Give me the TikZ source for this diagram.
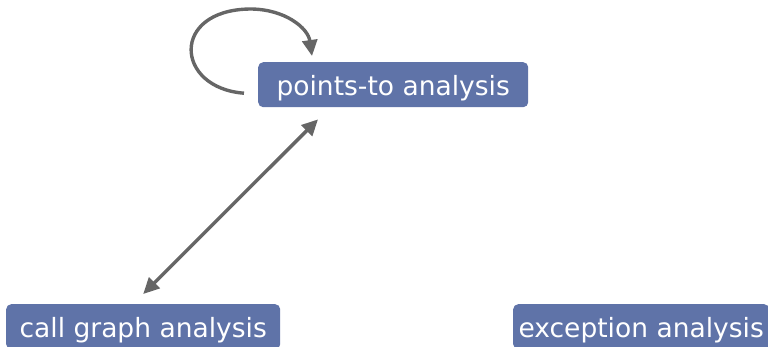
\documentclass[tikz,border=0pt]{standalone}
\usepackage{fontspec}
\setmainfont{DejaVu Sans}
\usetikzlibrary{arrows.meta}
\definecolor{boxblue}{HTML}{5F73A8}
\definecolor{edgegray}{HTML}{666666}
\tikzset{
  anabox/.style={draw=none, fill=boxblue, rounded corners=5pt, text=white,
    font=\fontsize{26.5}{30}\selectfont, minimum height=45pt, inner sep=0pt,
    text height=23pt, text depth=2pt, anchor=north west},
  conn/.style={draw=edgegray, line width=3.4pt, -{Triangle[length=16pt,width=15pt]}},
  biconn/.style={draw=edgegray, line width=3.4pt, {Triangle[length=16pt,width=15pt]}-{Triangle[length=16pt,width=15pt]}}
}
\begin{document}
\begin{tikzpicture}[x=1pt,y=-1pt]
\useasboundingbox (0,0) rectangle (768,347);
\node[anabox, minimum width=270pt] (pt) at (258,62) {points-to analysis};
\node[anabox, minimum width=274pt] (cg) at (6,304) {call graph analysis};
\node[anabox, minimum width=256pt] (ex) at (513,304) {exception analysis};
\coordinate (loopstart) at ([xshift=-14pt,yshift=-8.5pt]pt.west);
\coordinate (loopend) at ([xshift=54pt,yshift=6pt]pt.north west);
\draw[conn] (loopstart) .. controls (175,88) and (170,10) .. (250,9)
  .. controls (285,9) and (308,28) .. (loopend);
\draw[biconn] ([yshift=10pt]cg.north) -- ([xshift=60pt,yshift=-12pt]pt.south west);
\end{tikzpicture}
\end{document}
